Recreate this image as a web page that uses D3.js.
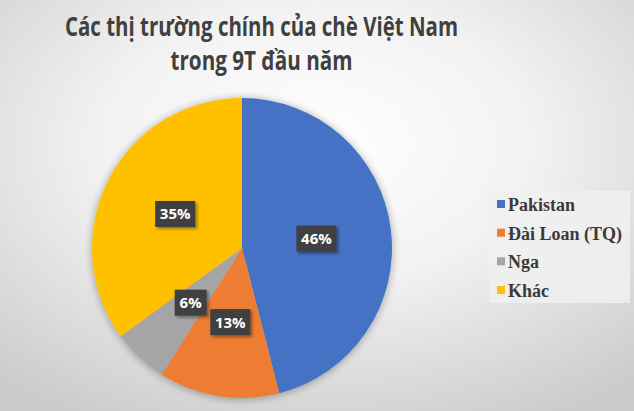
<!DOCTYPE html>
<html><head><meta charset="utf-8">
<script src="https://cdn.jsdelivr.net/npm/d3@7"></script>
<style>html,body{margin:0;padding:0;overflow:hidden;}svg{display:block;}</style>
</head><body>
<svg id="chart" width="634" height="411"></svg>
<script>
const categories = ["Pakistan", "Đài Loan (TQ)", "Nga", "Khác"];
const values = [46, 13, 6, 35];
const colors = ["#4472C4", "#ED7D31", "#A5A5A5", "#FFC000"];
const titleLines = ["Các thị trường chính của chè Việt Nam", "trong 9T đầu năm"];

const svg = d3.select("#chart");
const defs = svg.append("defs");
const rg = defs.append("radialGradient").attr("id","bg").attr("cx","50%").attr("cy","35%").attr("r","75%");
rg.append("stop").attr("offset","0%").attr("stop-color","#ffffff");
rg.append("stop").attr("offset","45%").attr("stop-color","#f2f2f2");
rg.append("stop").attr("offset","100%").attr("stop-color","#cccccc");
const sh = defs.append("filter").attr("id","sh").attr("x","-20%").attr("y","-20%").attr("width","140%").attr("height","140%");
sh.append("feGaussianBlur").attr("in","SourceAlpha").attr("stdDeviation",4).attr("result","b");
sh.append("feOffset").attr("in","b").attr("dx",0).attr("dy",1).attr("result","o");
sh.append("feComponentTransfer").attr("in","o").attr("result","o2").append("feFuncA").attr("type","linear").attr("slope",0.35);
const m = sh.append("feMerge"); m.append("feMergeNode").attr("in","o2"); m.append("feMergeNode").attr("in","SourceGraphic");
const sh2 = defs.append("filter").attr("id","sh2").attr("x","-30%").attr("y","-30%").attr("width","160%").attr("height","160%");
sh2.append("feGaussianBlur").attr("in","SourceAlpha").attr("stdDeviation",1.5).attr("result","b");
sh2.append("feOffset").attr("in","b").attr("dx",2).attr("dy",2).attr("result","o");
sh2.append("feComponentTransfer").attr("in","o").attr("result","o2").append("feFuncA").attr("type","linear").attr("slope",0.4);
const m2 = sh2.append("feMerge"); m2.append("feMergeNode").attr("in","o2"); m2.append("feMergeNode").attr("in","SourceGraphic");

svg.append("rect").attr("width",634).attr("height",411).attr("fill","url(#bg)");

// Title
const title = svg.append("g");
[[titleLines[0],36,393],[titleLines[1],70,182]].forEach(([t,y,w])=>{
  title.append("text").attr("x",261.5).attr("y",y).attr("text-anchor","middle")
    .attr("font-family","'Open Sans', 'Noto Sans', sans-serif").attr("font-weight","bold")
    .attr("font-size",27).attr("fill","#404040")
    .attr("textLength",w).attr("lengthAdjust","spacingAndGlyphs").text(t);
});

// Pie
const cx = 242, cy = 248, R = 150;
const pie = d3.pie().sort(null).value(d=>d.v);
const data = pie(categories.map((c,i)=>({c, v: values[i], col: colors[i]})));
const arc = d3.arc().innerRadius(0).outerRadius(R);
const labelArc = d3.arc().innerRadius(R*0.5).outerRadius(R*0.5);
const g = svg.append("g").attr("transform",`translate(${cx},${cy})`);
g.append("g").attr("filter","url(#sh)").selectAll("path").data(data).join("path")
  .attr("d",arc).attr("fill",d=>d.data.col);

const total = d3.sum(values);
const lab = g.selectAll("g.lab").data(data).join("g").attr("class","lab")
  .attr("transform",d=>`translate(${labelArc.centroid(d)})`);
lab.each(function(d){
  const t = Math.round(d.data.v/total*100)+"%";
  const w = t.length>2 ? 40 : 32;
  d3.select(this).append("rect").attr("x",-w/2).attr("y",-13).attr("width",w).attr("height",26)
    .attr("fill","#404040").attr("filter","url(#sh2)");
  d3.select(this).append("text").attr("text-anchor","middle").attr("y",5.5)
    .attr("font-family","'Open Sans', sans-serif").attr("font-weight","bold").attr("font-size",15)
    .attr("fill","#ffffff").text(t);
});

// Legend
const lg = svg.append("g");
lg.append("rect").attr("x",489).attr("y",191).attr("width",141).attr("height",112).attr("fill","#f0f0f0").attr("opacity",0.85);
const rowY = d3.scalePoint().domain(categories).range([211,297]);
const items = lg.selectAll("g.it").data(categories).join("g").attr("class","it");
items.append("rect").attr("x",497).attr("y",d=>rowY(d)-11).attr("width",8).attr("height",8)
  .attr("fill",(d,i)=>colors[i]);
items.append("text").attr("x",508).attr("y",d=>rowY(d))
  .attr("font-family","'Liberation Serif', 'Times New Roman', serif").attr("font-weight","bold")
  .attr("font-size",18).attr("fill","#3a3a3a").text(d=>d);
</script>
</body></html>
